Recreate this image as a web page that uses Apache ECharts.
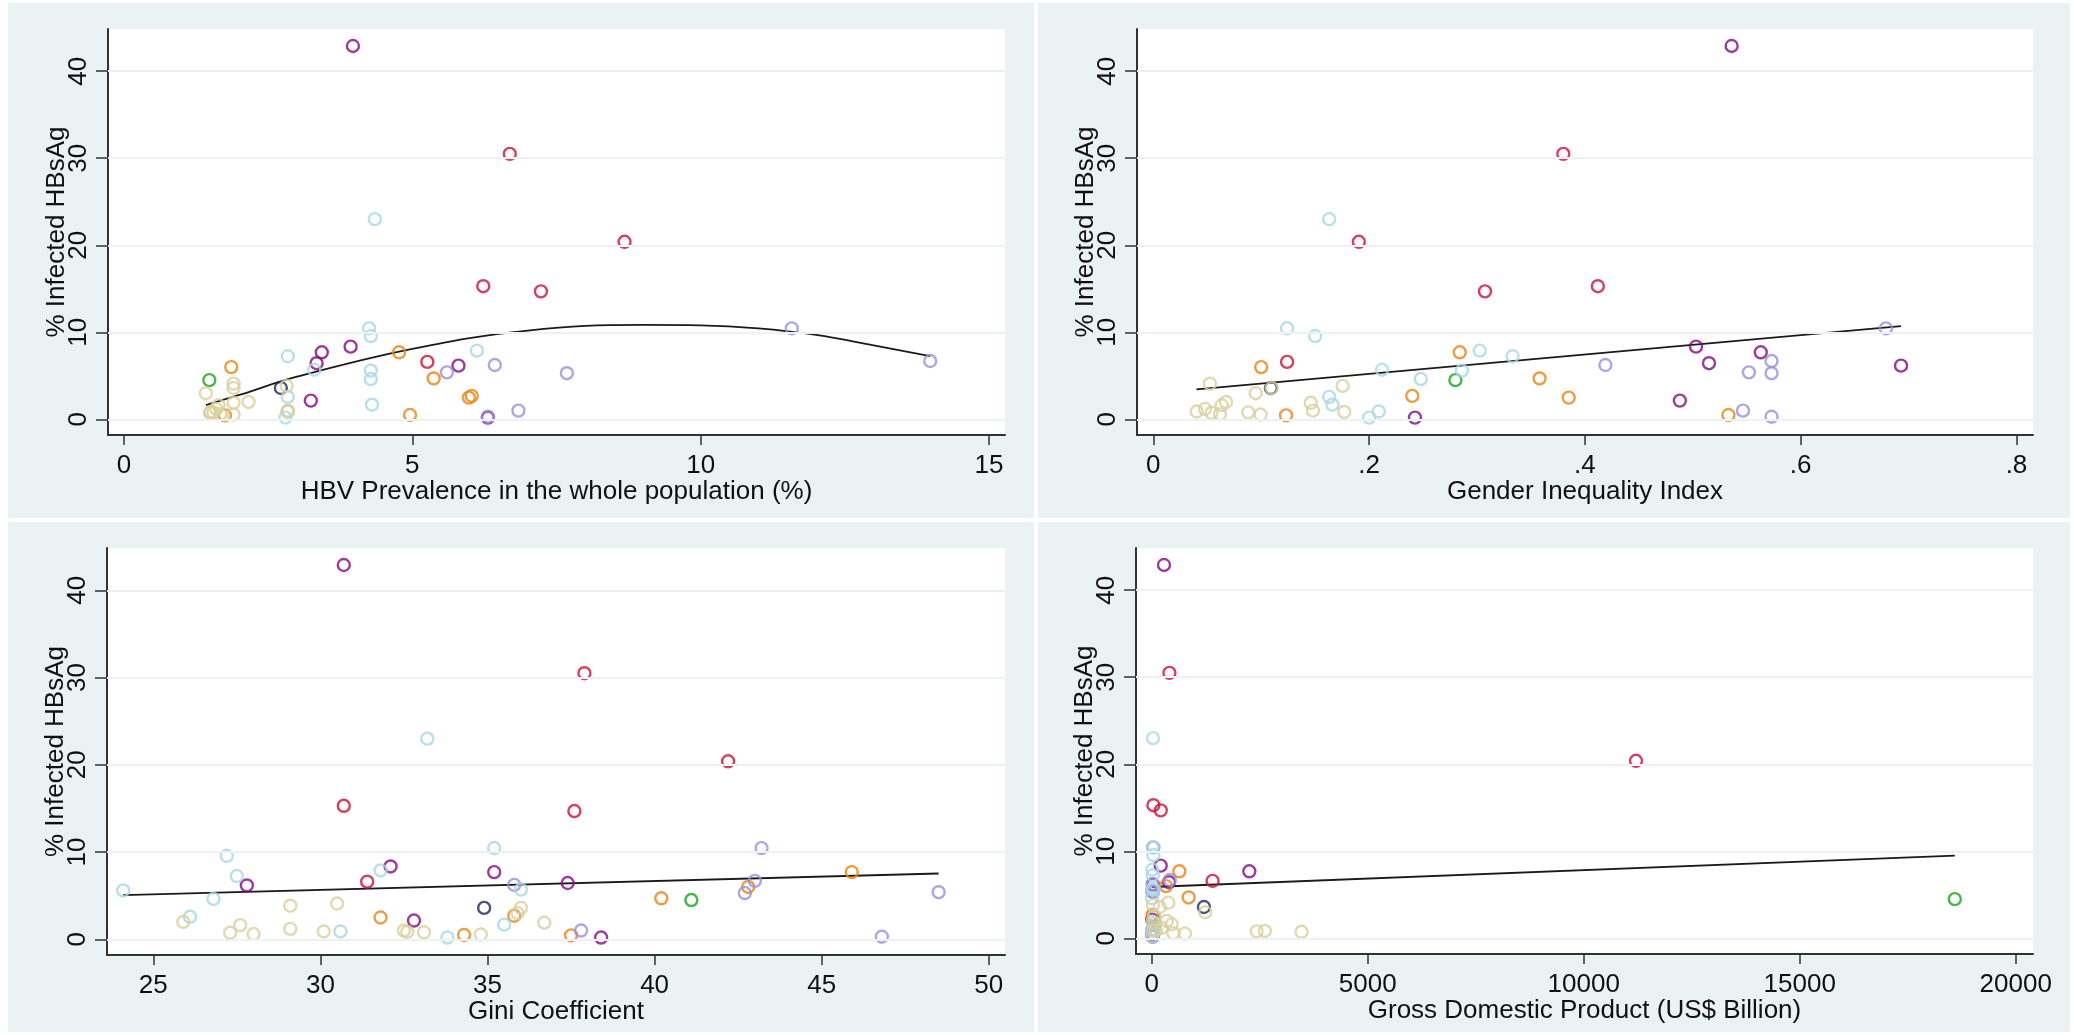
<!DOCTYPE html>
<html>
<head>
<meta charset="utf-8">
<script src="https://cdn.jsdelivr.net/npm/echarts@6/dist/echarts.min.js"></script>
<style>
  html, body { margin: 0; background: #fff; }
  #chart { width: 2074px; height: 1035px; }
</style>
</head>
<body>
<div id="chart"></div>
<script>
// % infected HBsAg, one array per colour group (same countries in every panel)
const hbsGreen = [4.5];
const hbsNavy = [3.6];
const hbsCrimson = [30.5, 20.4, 15.3, 14.7, 6.6];
const hbsPurple = [42.9, 8.35, 7.7, 6.45, 6.17, 2.15, 0.2];
const hbsOrange = [7.7, 6.0, 4.7, 2.7, 2.5, 0.5, 0.45];
const hbsLavender = [10.45, 6.7, 6.24, 5.4, 5.3, 1.0, 0.3];
const hbsLtblue = [23.0, 10.46, 9.57, 7.89, 7.25, 5.7, 5.6, 4.63, 2.58, 1.68, 0.9, 0.2];
const hbsTan = [4.1, 3.85, 3.6, 3.0, 2.0, 1.9, 1.62, 1.2, 1.0, 0.9, 0.85, 0.8, 0.75, 0.6, 0.55];

// HBV prevalence in the whole population (%)
const hbvGreen = [1.48];
const hbvNavy = [2.72];
const hbvCrimson = [6.69, 8.68, 6.23, 7.23, 5.26];
const hbvPurple = [3.97, 3.93, 3.43, 3.34, 5.8, 3.24, 6.31];
const hbvOrange = [4.77, 1.86, 5.37, 6.03, 5.98, 4.96, 1.75];
const hbvLavender = [11.58, 13.98, 6.43, 5.6, 7.68, 6.84, 6.31];
const hbvLtblue = [4.35, 4.25, 4.28, 6.12, 2.84, 3.30, 4.28, 4.28, 2.84, 4.30, 2.84, 2.80];
const hbvTan = [1.9, 2.82, 1.9, 1.42, 2.16, 1.9, 1.64, 1.6, 2.84, 2.84, 1.5, 1.55, 1.49, 1.67, 1.9];

// Gender Inequality Index
const giiGreen = [0.28];
const giiNavy = [0.109];
const giiCrimson = [0.380, 0.1905, 0.412, 0.3074, 0.124];
const giiPurple = [0.536, 0.503, 0.563, 0.515, 0.693, 0.488, 0.2425];
const giiOrange = [0.284, 0.100, 0.358, 0.240, 0.385, 0.533, 0.123];
const giiLavender = [0.679, 0.573, 0.419, 0.552, 0.573, 0.5465, 0.573];
const giiLtblue = [0.163, 0.124, 0.150, 0.3025, 0.333, 0.212, 0.286, 0.248, 0.163, 0.166, 0.209, 0.200];
const giiTan = [0.0525, 0.1755, 0.1097, 0.0949, 0.0674, 0.146, 0.0634, 0.0479, 0.148, 0.0402, 0.177, 0.088, 0.054, 0.0618, 0.0995];

// Gini coefficient
const giniGreen = [41.1];
const giniNavy = [34.9];
const giniCrimson = [37.9, 42.2, 30.7, 37.6, 31.4];
const giniPurple = [30.7, 32.1, 35.2, 37.4, 27.8, 32.8, 38.4];
const giniOrange = [45.9, 42.8, 40.2, 35.8, 31.8, 34.3, 37.5];
const giniLavender = [43.2, 43.0, 35.8, 48.5, 42.7, 37.8, 46.8];
const giniLtblue = [33.2, 35.2, 27.2, 31.8, 27.5, 36.0, 24.1, 26.8, 26.1, 35.5, 30.6, 33.8];
const giniTan = [30.5, 29.1, 36.0, 35.9, 25.9, 36.7, 27.6, 29.1, 32.5, 30.1, 32.6, 33.1, 27.3, 28.0, 34.8];

// Gross domestic product (US$ billion)
const gdpGreen = [18590];
const gdpNavy = [1210];
const gdpCrimson = [410, 11210, 40, 210, 1410];
const gdpPurple = [285, 208, 2260, 400, 30, 10, 20];
const gdpOrange = [640, 330, 855, 20, 40, 10, 30];
const gdpLavender = [40, 420, 20, 10, 30, 15, 5];
const gdpLtblue = [30, 20, 40, 15, 25, 10, 50, 5, 60, 70, 20, 10];
const gdpTan = [385, 30, 190, 1240, 350, 20, 465, 230, 60, 100, 2620, 2430, 3470, 500, 770];

// fitted lines
const hbvFitX = [1.42, 2, 3, 5, 7, 9, 10, 11, 12, 13, 13.98];
const hbvFitY = [1.64, 2.8, 4.9, 8.1, 10.2, 10.85, 10.8, 10.45, 9.7, 8.5, 7.25];
const giiFitX = [0.04, 0.693];
const giiFitY = [3.45, 10.72];
const giniFitX = [24.1, 48.5];
const giniFitY = [5.06, 7.54];
const gdpFitX = [10, 18590];
const gdpFitY = [5.9, 9.5];

// tick labels
const yTicks = [0, 10, 20, 30, 40];
const hbvTicks = [0, 5, 10, 15];
const giiTicks = [0, 0.2, 0.4, 0.6, 0.8];
const giniTicks = [25, 30, 35, 40, 45, 50];
const gdpTicks = [0, 5000, 10000, 15000, 20000];

const groups = [
  { y: hbsGreen, color: '#14a814', xs: [hbvGreen, giiGreen, giniGreen, gdpGreen] },
  { y: hbsNavy, color: '#1b2a5a', xs: [hbvNavy, giiNavy, giniNavy, gdpNavy] },
  { y: hbsCrimson, color: '#cc1038', xs: [hbvCrimson, giiCrimson, giniCrimson, gdpCrimson] },
  { y: hbsPurple, color: '#850a85', xs: [hbvPurple, giiPurple, giniPurple, gdpPurple] },
  { y: hbsOrange, color: '#ea8313', xs: [hbvOrange, giiOrange, giniOrange, gdpOrange] },
  { y: hbsLavender, color: '#9890da', xs: [hbvLavender, giiLavender, giniLavender, gdpLavender] },
  { y: hbsLtblue, color: '#a8d7e6', xs: [hbvLtblue, giiLtblue, giniLtblue, gdpLtblue] },
  { y: hbsTan, color: '#d8cf9e', xs: [hbvTan, giiTan, giniTan, gdpTan] }
];

const panels = [
  { grid: { left: 108, top: 29, width: 897, height: 406 }, min: -0.277, max: 15.277,
    ticks: hbvTicks, title: 'HBV Prevalence in the whole population (%)', fx: hbvFitX, fy: hbvFitY, smooth: true },
  { grid: { left: 1137, top: 29, width: 896, height: 406 }, min: -0.0151, max: 0.8153,
    ticks: giiTicks, title: 'Gender Inequality Index', fx: giiFitX, fy: giiFitY,
    fmt: v => (v === 0 ? '0' : String(v).replace(/^0/, '')) },
  { grid: { left: 107, top: 548, width: 898, height: 407 }, min: 23.615, max: 50.485,
    ticks: giniTicks, title: 'Gini Coefficient', fx: giniFitX, fy: giniFitY },
  { grid: { left: 1136, top: 548, width: 897, height: 406 }, min: -363, max: 20400,
    ticks: gdpTicks, title: 'Gross Domestic Product (US$ Billion)', fx: gdpFitX, fy: gdpFitY }
];

const bgRects = [
  [8, 3, 1026, 515], [1038, 3, 1032, 515],
  [8, 522, 1026, 510], [1038, 522, 1032, 510]
];

const axisCol = '#333';
const textCol = '#111';
const gridCol = '#eaf2f3';

const zip = (a, b) => a.map((v, i) => [v, b[i]]);

const grids = [], xAxes = [], yAxes = [], series = [];
panels.forEach((p, i) => {
  grids.push(Object.assign({ show: true, backgroundColor: '#fff', borderWidth: 0, outerBoundsMode: 'none' }, p.grid));
  xAxes.push({
    type: 'value', gridIndex: i, min: p.min, max: p.max, position: 'bottom',
    name: p.title, nameLocation: 'middle', nameGap: 44, nameMoveOverlap: false,
    nameTextStyle: { fontSize: 26, color: textCol },
    axisLine: { show: true, onZero: false, lineStyle: { color: axisCol, width: 2 } },
    axisTick: { show: true, length: 10, customValues: p.ticks, lineStyle: { color: axisCol, width: 1.5 } },
    axisLabel: { customValues: p.ticks, fontSize: 26, color: textCol, margin: 18,
      formatter: p.fmt || (v => String(v)) },
    splitLine: { show: false }
  });
  yAxes.push({
    type: 'value', gridIndex: i, min: -1.8, max: 44.85, position: 'left',
    name: '% Infected HBsAg', nameLocation: 'middle', nameGap: 38, nameMoveOverlap: false,
    nameTextStyle: { fontSize: 26, color: textCol },
    axisLine: { show: true, onZero: false, lineStyle: { color: axisCol, width: 2 } },
    axisTick: { show: true, length: 12, customValues: yTicks, lineStyle: { color: axisCol, width: 1.5 } },
    axisLabel: { customValues: yTicks, fontSize: 26, color: textCol, rotate: 90, margin: 16 },
    splitLine: { show: false }
  });
  groups.forEach(g => {
    series.push({
      type: 'scatter', xAxisIndex: i, yAxisIndex: i, z: 3,
      symbol: 'circle', symbolSize: 12,
      itemStyle: { color: 'rgba(0,0,0,0)', borderColor: g.color, borderWidth: 2.4 },
      data: zip(g.xs[i], g.y)
    });
  });
  series.push({
    type: 'line', xAxisIndex: i, yAxisIndex: i, z: 2,
    data: zip(p.fx, p.fy), smooth: p.smooth ? 0.4 : false,
    showSymbol: false, lineStyle: { color: '#1a1a1a', width: 1.8 },
    markLine: {
      silent: true, symbol: ['none', 'none'], label: { show: false },
      lineStyle: { color: gridCol, width: 2, type: 'solid' },
      data: yTicks.map(v => ({ yAxis: v }))
    }
  });
});

const chart = echarts.init(document.getElementById('chart'), null, { renderer: 'canvas' });
chart.setOption({
  animation: false,
  backgroundColor: '#fff',
  textStyle: { fontFamily: 'Liberation Sans, Arial, sans-serif' },
  graphic: bgRects.map(r => ({
    type: 'rect', z: -10, silent: true,
    shape: { x: r[0], y: r[1], width: r[2], height: r[3] },
    style: { fill: gridCol }
  })),
  grid: grids,
  xAxis: xAxes,
  yAxis: yAxes,
  series: series
});
</script>
</body>
</html>
